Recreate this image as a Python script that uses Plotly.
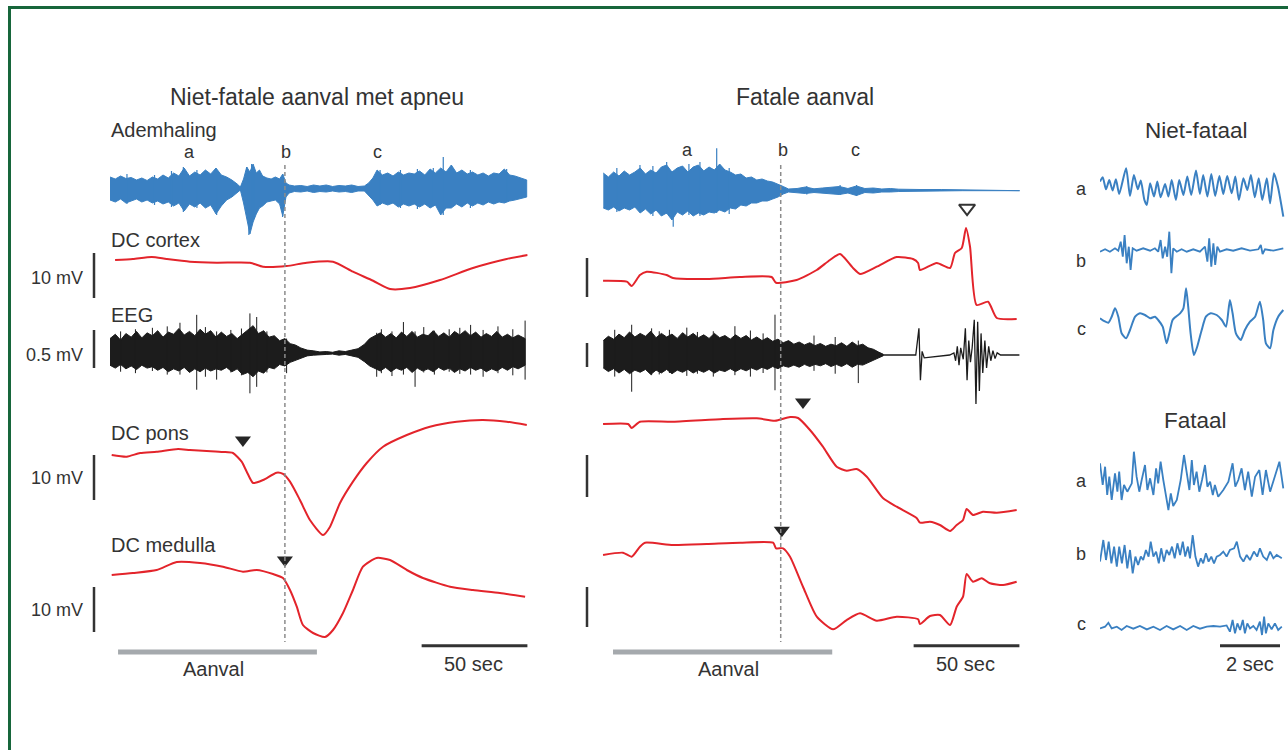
import plotly.graph_objects as go

W, H = 1288, 750
RED = "#e3242b"
BLUE = "#3a80c2"
BLACK = "#1c1c1c"
TXT = "#333333"
GREEN = "#17663b"
FONT = "Liberation Sans, Arial, Helvetica, sans-serif"

# ======================= DATA =======================
# ---- Left: non-fatal seizure with apnea (time s, DC mV, EEG mV, breathing a.u.)
nf_breath_t = [0, 2.5, 5, 7.5, 10, 12.5, 15, 17.5, 20, 22.5, 25, 27.5, 30, 32.5, 35, 37.5, 40, 42.5, 45, 47.5,
               50, 52.5, 55, 57.5, 60, 61.5, 63, 64.5, 66, 67.5, 69, 70.5, 72, 74, 76, 78, 80, 81.5, 83, 84.5,
               87, 90, 93, 96, 99, 102, 105, 108, 111, 114, 117, 120, 122, 124, 126, 128.5, 131, 133.5, 136, 138.5,
               141, 143.5, 146, 148.5, 151, 153.5, 156, 158.5, 161, 163.5, 166, 168.5, 171, 173.5, 176, 178.5, 181, 183.5, 186, 188.5,
               191, 193.5, 196.6]
nf_breath_hi = [1.1, 0.9, 1.2, 0.95, 1.05, 0.8, 1.0, 0.75, 1.1, 0.9, 1.3, 1.0, 1.5, 1.2, 2.0, 1.2, 1.6, 1.3, 1.8, 1.4,
                2.0, 1.3, 1.1, 0.8, 0.4, 0.1, 0.9, 2.1, 1.6, 2.4, 1.5, 1.8, 1.2, 1.0, 0.9, 1.1, 0.9, 1.4, 0.5, 0.3,
                0.2, 0.25, 0.15, 0.3, 0.2, 0.3, 0.15, 0.25, 0.2, 0.3, 0.15, 0.2, 0.5, 1.0, 1.8, 1.3, 1.5, 1.2, 1.6, 1.3,
                1.5, 1.4, 1.7, 1.3, 1.9, 1.5, 2.0, 1.6, 2.3, 1.5, 1.8, 1.4, 1.6, 1.3, 1.5, 1.2, 1.5, 1.4, 1.9, 1.3,
                1.2, 1.0, 0.8]
nf_breath_lo = [-1.2, -1.4, -1.1, -1.5, -1.3, -1.1, -1.4, -1.2, -1.5, -1.3, -1.6, -1.4, -1.8, -1.5, -2.3, -1.6, -1.9, -1.5, -2.0, -1.7,
                -2.6, -1.8, -1.2, -0.9, -0.5, -0.2, -1.5, -3.0, -4.6, -3.4, -2.6, -2.0, -1.8, -1.4, -1.3, -1.2, -1.6, -2.8, -0.9, -0.5,
                -0.35, -0.4, -0.3, -0.45, -0.35, -0.4, -0.3, -0.4, -0.35, -0.45, -0.3, -0.3, -0.7, -1.2, -1.8, -1.5, -1.7, -1.5, -1.9, -1.6,
                -1.8, -1.6, -1.9, -1.6, -2.0, -1.7, -2.7, -2.0, -2.0, -1.6, -1.9, -1.5, -1.8, -1.5, -1.7, -1.4, -1.6, -1.4, -1.5, -1.3,
                -1.2, -1.1, -0.9]
nf_breath_spk_t = [8.0, 21.0, 29.0, 34.6, 41.0, 50.3, 64.5, 65.5, 66.8, 68.0, 81.4, 127.4, 137.0, 145.0, 152.5, 157.2, 170.0, 187.1]
nf_breath_spk_hi = [1.4, 1.3, 1.7, 2.1, 1.8, 1.6, 2.1, 1.2, 2.4, 1.5, 1.4, 1.8, 1.8, 1.9, 2.0, 3.1, 1.8, 1.9]
nf_breath_spk_lo = [-1.6, -1.7, -1.9, -2.4, -2.0, -2.7, -2.6, -4.7, -3.6, -3.0, -2.9, -1.7, -2.0, -2.1, -1.8, -2.7, -2.0, -1.4]

nf_cortex_t = [2.4, 10.8, 19.7, 26.7, 37.7, 50.3, 66.0, 72.2, 83.3, 92.8, 105.2, 114.6, 124.1, 132.1, 141.5, 155.7, 171.2, 187.1, 197.0]
nf_cortex_v = [0.44, 0.67, 1.11, 0.67, 0.07, -0.16, -0.16, -1.04, -0.89, -0.16, 0.07, -2.16, -4.16, -6.0, -5.78, -4.0, -1.33, 0.67, 1.56]

nf_eeg_t = [0, 2.5, 5, 7.5, 10, 12.5, 15, 17.5, 20, 22.5, 25, 27.5, 30, 32.5, 35, 37.5, 40, 42.5, 45, 47.5,
            50, 52.5, 55, 57.5, 60, 62.5, 65, 67.5, 70, 72.5, 75, 77.5, 80, 82.5, 85, 87.5,
            90, 93, 96, 99, 102, 105, 108, 111, 114, 117,
            120, 122.5, 125, 127.5, 130, 132.5, 135, 137.5, 140, 142.5, 145, 147.5, 150, 152.5, 155, 157.5, 160, 162.5, 165, 167.5,
            170, 172.5, 175, 177.5, 180, 182.5, 185, 187.5, 190, 192.5, 195.8]
nf_eeg_hi = [0.2, 0.26, 0.18, 0.27, 0.22, 0.3, 0.21, 0.28, 0.24, 0.31, 0.22, 0.29, 0.26, 0.34, 0.25, 0.3, 0.24, 0.33, 0.26, 0.31,
             0.22, 0.29, 0.23, 0.27, 0.2, 0.26, 0.33, 0.38, 0.27, 0.31, 0.22, 0.24, 0.17, 0.2, 0.13, 0.11,
             0.07, 0.04, 0.03, 0.015, 0.02, 0.01, 0.03, 0.02, 0.04, 0.06,
             0.12, 0.2, 0.24, 0.28, 0.22, 0.27, 0.21, 0.29, 0.23, 0.3, 0.22, 0.26, 0.24, 0.31, 0.23, 0.28, 0.22, 0.3, 0.25, 0.31,
             0.24, 0.29, 0.22, 0.27, 0.23, 0.3, 0.22, 0.26, 0.21, 0.25, 0.2]
nf_eeg_lo = [-0.17, -0.21, -0.16, -0.22, -0.18, -0.23, -0.17, -0.21, -0.19, -0.24, -0.2, -0.26, -0.22, -0.25, -0.2, -0.27, -0.22, -0.26, -0.21, -0.25,
             -0.22, -0.24, -0.2, -0.26, -0.22, -0.3, -0.27, -0.33, -0.25, -0.28, -0.2, -0.22, -0.16, -0.18, -0.13, -0.1,
             -0.07, -0.04, -0.03, -0.02, -0.02, -0.015, -0.03, -0.02, -0.04, -0.06,
             -0.12, -0.18, -0.22, -0.25, -0.2, -0.26, -0.21, -0.24, -0.2, -0.27, -0.21, -0.25, -0.22, -0.26, -0.2, -0.24, -0.21, -0.27, -0.22, -0.25,
             -0.2, -0.24, -0.21, -0.26, -0.22, -0.25, -0.2, -0.24, -0.19, -0.22, -0.17]
nf_eeg_spk_t = [5.0, 12.0, 20.0, 27.0, 33.0, 40.9, 45.0, 50.3, 57.0, 62.0, 66.0, 69.2, 74.0, 83.3, 125.8, 128.0, 133.0, 138.4,
                143.9, 148.0, 153.0, 160.0, 165.0, 170.1, 176.0, 183.0, 190.0, 195.8]
nf_eeg_spk_hi = [0.3, 0.33, 0.35, 0.37, 0.42, 0.53, 0.36, 0.3, 0.32, 0.34, 0.55, 0.5, 0.3, 0.2, 0.28, 0.33, 0.3, 0.43,
                 0.3, 0.36, 0.31, 0.33, 0.35, 0.39, 0.32, 0.37, 0.33, 0.45]
nf_eeg_spk_lo = [-0.26, -0.28, -0.25, -0.3, -0.3, -0.51, -0.33, -0.37, -0.27, -0.31, -0.56, -0.47, -0.27, -0.28, -0.33, -0.28, -0.32, -0.3,
                 -0.47, -0.27, -0.3, -0.26, -0.29, -0.3, -0.33, -0.28, -0.31, -0.37]

nf_pons_t = [0.8, 7.9, 14.2, 22.0, 32.1, 37.7, 45.6, 53.3, 58.0, 62.1, 64.5, 67.5, 72.2, 78.6, 81.6, 84.9, 89.6, 94.3, 100.5, 103.8,
             108.5, 114.6, 121.1, 128.8, 140.0, 150.9, 163.5, 175.9, 187.1, 196.6]
nf_pons_v = [-1.11, -1.49, -0.67, -0.38, 0.22, 0.0, -0.22, -0.44, -0.67, -2.6, -4.82, -7.33, -6.67, -5.04, -5.33, -7.04, -11.11, -15.56, -18.89, -17.04,
             -11.78, -7.04, -2.89, 0.73, 3.33, 5.18, 6.29, 6.67, 6.29, 5.56]

nf_med_t = [0.8, 10.8, 22.0, 31.5, 42.5, 53.3, 62.7, 69.2, 76.9, 81.6, 84.9, 88.1, 91.0, 95.8, 101.4, 105.2, 109.9, 114.6, 119.3, 125.8,
            132.1, 140.0, 147.6, 160.4, 171.2, 183.9, 195.8]
nf_med_v = [-1.11, -0.67, 0.0, 1.78, 1.56, 0.73, -0.38, 0.0, -0.89, -1.78, -4.44, -8.16, -12.22, -14.0, -14.89, -13.33, -9.56, -4.44, 0.73, 2.67,
            2.22, 0.0, -1.78, -3.71, -4.44, -5.11, -5.93]

# ---- Middle: fatal seizure
f_breath_t = [0.6, 3, 5.5, 8, 10.5, 13, 15.5, 18, 20.5, 23, 25.5, 28, 30.5, 33, 35.5, 38, 40.5, 43, 45.5, 48,
              50.5, 53, 55.5, 58, 60.5, 63, 65.5, 68, 70.5, 73, 75.5, 78, 80.5, 83, 85.5, 88, 92, 96, 100, 104,
              108, 112, 116, 120, 124, 128, 132, 136, 140, 145, 150, 160, 170, 197.2]
f_breath_hi = [1.7, 1.3, 1.8, 1.4, 1.9, 1.5, 1.8, 2.2, 1.6, 2.0, 1.7, 2.3, 2.5, 1.8, 2.2, 2.4, 1.8, 2.3, 2.5, 1.9,
               2.3, 2.0, 2.6, 2.0, 1.8, 1.5, 1.6, 1.2, 1.3, 1.0, 1.1, 0.9, 0.8, 0.6, 0.35, 0.1, 0.15, 0.3, 0.12, 0.2,
               0.3, 0.35, 0.15, 0.4, 0.15, 0.2, 0.1, 0.15, 0.08, 0.1, 0.05, 0.05, 0.03, 0.0]
f_breath_lo = [-1.8, -2.0, -1.7, -2.1, -1.8, -2.0, -1.7, -2.3, -1.9, -2.4, -2.0, -2.6, -2.3, -3.0, -2.2, -2.5, -2.1, -2.6, -2.3, -2.5,
               -2.2, -2.3, -2.0, -2.2, -1.8, -1.9, -1.5, -1.6, -1.3, -1.3, -1.1, -1.1, -0.9, -0.7, -0.4, -0.2, -0.3, -0.35, -0.25, -0.3,
               -0.4, -0.45, -0.3, -0.55, -0.25, -0.3, -0.2, -0.2, -0.15, -0.15, -0.1, -0.08, -0.07, -0.07]
f_breath_spk_t = [7.0, 17.9, 24.0, 30.5, 33.6, 41.0, 46.2, 54.1, 60.0, 96.6, 112.3, 120.1]
f_breath_spk_hi = [2.2, 2.5, 2.4, 2.8, 1.8, 2.6, 2.8, 4.17, 2.2, 0.4, 0.5, 0.5]
f_breath_spk_lo = [-2.2, -2.0, -2.6, -2.4, -3.67, -2.5, -2.6, -2.3, -2.4, -0.45, -0.5, -0.6]

f_cortex_t = [0.5, 11.7, 14.0, 17.9, 21.1, 30.5, 33.5, 49.4, 65.1, 80.0, 82.1, 91.8, 101.3, 107.5, 112.3, 118.4, 121.7, 129.6, 139.0, 146.7,
              149.1, 150.0, 157.9, 164.2, 166.5, 169.7, 171.7, 173.6, 176.7, 182.1, 186.2, 195.6]
f_cortex_v = [-0.82, -1.04, -2.0, 0.44, 1.18, 0.44, -0.22, -0.44, 0.0, 0.0, -1.27, -0.67, 1.56, 3.78, 5.11, 2.0, 0.67, 2.29, 4.44, 4.0,
              3.11, 1.56, 3.11, 2.0, 5.33, 6.44, 10.89, 6.73, -6.22, -5.49, -9.11, -9.33]

f_eeg_t = [0.6, 3, 5.5, 8, 10.5, 13, 15.5, 18, 20.5, 23, 25.5, 28, 30.5, 33, 35.5, 38, 40.5, 43, 45.5, 48,
           50.5, 53, 55.5, 58, 60.5, 63, 65.5, 68, 70.5, 73, 75.5, 78, 80.5, 83, 85.5, 88, 90.5, 93, 95.5, 98,
           100.5, 103, 105.5, 108, 110.5, 113, 115.5, 118, 120.5, 123, 125.5, 128, 130.5, 132.7]
f_eeg_hi = [0.2, 0.26, 0.22, 0.29, 0.24, 0.32, 0.25, 0.3, 0.26, 0.33, 0.24, 0.3, 0.25, 0.29, 0.23, 0.31, 0.25, 0.3, 0.24, 0.28,
            0.23, 0.3, 0.24, 0.27, 0.22, 0.28, 0.23, 0.27, 0.21, 0.25, 0.2, 0.24, 0.19, 0.22, 0.17, 0.2, 0.15, 0.18, 0.14, 0.17,
            0.13, 0.16, 0.12, 0.15, 0.13, 0.17, 0.12, 0.18, 0.13, 0.15, 0.1, 0.08, 0.04, 0.01]
f_eeg_lo = [-0.18, -0.23, -0.19, -0.25, -0.2, -0.26, -0.21, -0.24, -0.2, -0.27, -0.21, -0.25, -0.2, -0.26, -0.21, -0.24, -0.2, -0.25, -0.21, -0.24,
            -0.2, -0.25, -0.21, -0.23, -0.19, -0.23, -0.19, -0.22, -0.18, -0.21, -0.17, -0.2, -0.16, -0.19, -0.15, -0.17, -0.14, -0.17, -0.13, -0.16,
            -0.13, -0.15, -0.12, -0.16, -0.13, -0.16, -0.12, -0.17, -0.13, -0.14, -0.1, -0.07, -0.04, -0.01]
f_eeg_spk_t = [6.0, 14.0, 23.4, 27.0, 31.8, 40.0, 45.0, 52.5, 62.7, 70.0, 76.0, 81.6, 100.0, 110.0, 120.9]
f_eeg_spk_hi = [0.35, 0.42, 0.37, 0.33, 0.35, 0.38, 0.32, 0.33, 0.4, 0.34, 0.3, 0.56, 0.27, 0.25, 0.2]
f_eeg_spk_lo = [-0.3, -0.51, -0.28, -0.27, -0.25, -0.29, -0.26, -0.3, -0.28, -0.3, -0.25, -0.49, -0.22, -0.26, -0.39]
f_eeg_tail_t = [132.7, 148.0, 149.5, 150.2, 151.0, 152.0, 164.0, 166.0, 166.8, 167.6, 168.4, 169.2, 170.4, 171.4, 172.2, 173.0, 173.8, 174.6,
                175.6, 176.4, 177.2, 178.0, 178.8, 179.6, 180.6, 181.4, 182.4, 183.4, 184.4, 185.4, 186.4, 188.0, 197.0]
f_eeg_tail_v = [0, 0, 0.37, -0.35, 0.05, -0.04, 0, 0.03, -0.08, 0.12, -0.14, 0.1, -0.06, 0.37, -0.35, 0.2, -0.1, 0.1,
                0.49, -0.68, 0.46, -0.5, 0.3, -0.25, 0.2, -0.18, 0.12, -0.08, 0.06, -0.05, 0.03, 0, 0]

f_pons_t = [0.5, 12.3, 14.0, 17.9, 33.5, 57.1, 73.0, 81.6, 88.7, 92.5, 98.1, 104.2, 110.7, 115.4, 120.1, 124.9, 132.5, 139.0, 148.4, 150.0,
            154.7, 159.4, 164.2, 167.3, 170.3, 172.0, 175.0, 179.7, 186.2, 195.6]
f_pons_v = [-0.89, -0.89, -1.78, -0.38, -0.38, 0.22, 0.38, -0.16, 0.67, 0.44, -2.22, -5.93, -10.38, -11.27, -10.89, -12.6, -17.33, -19.27, -21.78, -22.82,
            -22.6, -23.33, -24.67, -23.33, -22.22, -19.78, -21.11, -20.38, -20.6, -20.0]

f_med_t = [0.5, 9.9, 14.0, 17.9, 20.3, 33.5, 49.4, 65.1, 80.7, 82.1, 85.4, 88.7, 94.8, 101.3, 109.0, 115.4, 121.7, 129.6, 139.0, 149.1,
           150.0, 154.7, 159.4, 164.2, 167.3, 170.3, 172.0, 175.0, 179.1, 183.0, 189.2, 195.6]
f_med_v = [-2.22, -1.71, -2.6, -0.38, 0.51, 0.0, 0.22, 0.51, 0.51, -0.73, -0.73, -2.6, -9.27, -15.93, -18.73, -16.67, -15.18, -16.82, -15.93, -16.51,
           -17.56, -15.78, -15.56, -17.78, -13.71, -11.49, -6.44, -8.16, -7.4, -8.51, -8.89, -8.16]

# ---- Right: 6-s breathing excerpts a, b, c
nfa_t = [0, 0.09, 0.2, 0.31, 0.42, 0.53, 0.64, 0.87, 1.0, 1.13, 1.26, 1.36, 1.48, 1.56, 1.67, 1.8, 1.91, 2.02, 2.17, 2.28,
         2.39, 2.53, 2.64, 2.78, 2.91, 3.04, 3.2, 3.33, 3.44, 3.58, 3.71, 3.84, 3.98, 4.11, 4.24, 4.39, 4.51, 4.63, 4.78, 4.91,
         5.03, 5.16, 5.29, 5.41, 5.56, 5.67, 5.8, 5.93, 6.11]
nfa_v = [0.67, 1.1, -0.1, 0.83, -0.23, 0.9, -0.57, 2.0, -0.77, 1.33, -0.1, 0.77, -1.17, -1.67, 0.5, -0.83, 0.67, -0.9, 0.43, -0.83,
         0.83, -1.17, 0.83, -0.67, 1.17, -0.67, 1.77, -0.57, 1.33, -0.83, 1.43, -0.77, 1.23, -0.57, 1.23, -0.5, 1.17, -1.17, 1.0, -0.17,
         1.33, -0.9, 1.0, -1.17, 1.0, -1.5, 1.5, 0.17, -2.83]
nfb_t = [0, 0.17, 0.33, 0.5, 0.61, 0.69, 0.76, 0.82, 0.89, 0.96, 1.02, 1.09, 1.22, 1.44, 1.67, 1.83, 1.94, 2.02, 2.09, 2.17,
         2.24, 2.31, 2.38, 2.44, 2.56, 2.72, 2.89, 3.11, 3.33, 3.5, 3.58, 3.64, 3.71, 3.78, 3.84, 3.91, 4.0, 4.22, 4.44, 4.72,
         5.0, 5.28, 5.36, 5.42, 5.5, 5.78, 6.11]
nfb_v = [-0.17, 0.07, -0.17, 0.17, -0.07, 0.83, -0.67, 1.5, -1.33, 0.33, -2.0, 0.17, -0.07, 0.17, -0.07, 0.17, -0.17, 1.0, -0.83, 0.33,
         -0.67, 1.83, -2.33, 0.17, -0.17, 0.07, -0.17, 0.07, -0.17, 0.33, -1.17, 1.17, -1.67, 0.67, -1.5, 0.33, -0.17, 0.07, -0.07, 0.17,
         -0.07, 0.07, 0.5, -0.4, 0.07, -0.07, 0.17]
nfc_t = [0, 0.11, 0.28, 0.39, 0.5, 0.61, 0.72, 0.87, 1.0, 1.17, 1.33, 1.5, 1.67, 1.83, 1.94, 2.09, 2.22, 2.31, 2.42, 2.53,
         2.67, 2.78, 2.87, 2.94, 3.02, 3.13, 3.24, 3.39, 3.53, 3.69, 3.89, 4.06, 4.2, 4.33, 4.42, 4.53, 4.69, 4.83, 5.0, 5.17,
         5.33, 5.44, 5.53, 5.67, 5.78, 5.94, 6.11]
nfc_v = [0.17, -0.07, -0.27, 0.33, 1.17, 0.33, -1.33, -1.83, -1.0, 0.33, 0.67, 0.5, 0.17, 0.33, 0.0, -0.67, -2.33, -1.33, 0.0, 0.33,
         0.67, 1.17, 3.17, 1.33, -1.33, -3.5, -2.67, -1.0, 0.33, 0.67, 0.5, 0.0, -0.67, 2.0, 0.67, -1.33, -2.0, -1.0, -0.17, 0.33,
         1.83, 0.0, -2.33, -2.83, -1.0, 0.33, 1.0]
fa_t = [0, 0.09, 0.17, 0.24, 0.31, 0.39, 0.5, 0.58, 0.64, 0.72, 0.8, 0.91, 1.06, 1.13, 1.22, 1.31, 1.39, 1.5, 1.58, 1.67,
        1.78, 1.87, 1.94, 2.02, 2.11, 2.2, 2.28, 2.36, 2.44, 2.56, 2.69, 2.8, 2.89, 2.98, 3.06, 3.13, 3.22, 3.31, 3.4, 3.5,
        3.58, 3.67, 3.76, 3.83, 3.94, 4.11, 4.28, 4.42, 4.51, 4.61, 4.72, 4.83, 4.94, 5.06, 5.17, 5.31, 5.42, 5.53, 5.67, 5.8,
        5.98, 6.11]
fa_v = [1.67, -0.5, 1.33, -1.5, 0.33, -2.0, 0.67, -1.17, 0.83, -2.0, -0.5, -1.17, -0.33, 2.83, 0.33, -1.17, 0.0, 1.5, -1.0, 0.17,
        -1.5, 1.17, -0.33, 1.83, 0.0, -1.67, -3.0, -1.33, -2.6, -2.0, 0.0, 2.5, 0.83, -1.0, 2.0, -0.5, 0.83, -1.17, 0.0, 1.5,
        -0.67, -0.17, -1.5, -0.5, -1.67, -1.0, -0.17, 1.67, -0.67, 0.0, 1.17, -1.0, 0.83, -1.67, 0.33, 1.0, -1.5, 1.0, -1.17, 0.0,
        1.83, -0.83]
fb_t = [0, 0.11, 0.2, 0.29, 0.38, 0.47, 0.56, 0.64, 0.73, 0.82, 0.91, 1.0, 1.09, 1.18, 1.27, 1.36, 1.44, 1.53, 1.62, 1.69,
        1.78, 1.87, 1.96, 2.04, 2.13, 2.22, 2.31, 2.4, 2.49, 2.58, 2.67, 2.76, 2.84, 2.93, 3.0, 3.09, 3.18, 3.27, 3.36, 3.44,
        3.53, 3.62, 3.71, 3.8, 3.89, 4.0, 4.11, 4.22, 4.33, 4.47, 4.56, 4.67, 4.78, 4.89, 5.0, 5.13, 5.24, 5.33, 5.44, 5.56,
        5.67, 5.78, 5.89, 6.06]
fb_v = [-0.83, 1.33, -0.67, 1.17, -1.0, 0.67, -1.33, 0.67, -1.0, 0.83, -1.5, 0.33, -2.0, -0.33, -1.17, -0.33, -0.67, 0.33, -0.33, 1.17,
        -0.33, 0.17, -1.0, 0.5, -0.83, 0.33, -0.17, 0.67, -0.5, 1.0, -0.17, 1.17, -0.33, 0.67, -0.5, 1.83, -0.33, -1.33, -0.5, -1.0,
        0.0, -0.83, -0.33, -1.0, -0.33, -0.17, 0.17, -0.33, 0.33, 0.5, 1.17, -0.33, -0.83, -0.17, -0.67, 0.17, -0.33, 0.5, -0.33, -0.67,
        0.17, -0.5, -0.17, -0.5]
fc_t = [0, 0.17, 0.28, 0.39, 0.56, 0.72, 0.89, 1.11, 1.33, 1.56, 1.78, 2.0, 2.22, 2.44, 2.67, 2.89, 3.11, 3.33, 3.56, 3.78,
        4.0, 4.22, 4.33, 4.42, 4.5, 4.58, 4.67, 4.76, 4.83, 4.91, 5.0, 5.11, 5.22, 5.33, 5.4, 5.47, 5.53, 5.61, 5.72, 5.83,
        5.94, 6.06]
fc_v = [-0.17, 0.0, 0.4, -0.17, 0.0, -0.33, 0.07, -0.2, 0.07, -0.27, 0.0, -0.33, 0.07, -0.27, 0.07, -0.33, 0.07, -0.2, 0.0, 0.07,
        0.0, 0.13, -0.5, 0.67, -0.67, 0.33, -0.33, 0.67, -0.67, 0.33, -0.17, 0.07, -0.33, 0.5, -0.83, 1.0, -0.67, 0.33, -0.27, 0.33,
        -0.33, 0.0]

# event markers (time s, value in trace units)
nf_pons_arrow = (62.7, 2.2)
nf_med_arrow = (82.5, 2.2)
f_pons_arrow = (94.8, 4.0)
f_med_arrow = (84.8, 3.3)
f_cortex_open_arrow = (172.2, 15.3)
nf_b_time = 82.5
f_b_time = 84.3

# ======================= LAYOUT HELPERS =======================
def py(p):
    return 1 - p / H


def pxx(p):
    return p / W


# column -> (x axis id, left pixel, pixels per second, time span)
COLS = {"L": ("x", 110, 2.12, 197), "M": ("x2", 602, 2.12, 197), "R": ("x3", 1100, 30, 6.2)}

layout = dict(width=W, height=H, margin=dict(l=0, r=0, t=0, b=0), autosize=False,
              paper_bgcolor="white", plot_bgcolor="rgba(0,0,0,0)", showlegend=False,
              font=dict(family=FONT, color=TXT))

for key, (xa, left, s, span) in COLS.items():
    nm = "xaxis" if xa == "x" else "xaxis" + xa[1:]
    layout[nm] = dict(domain=[pxx(left), pxx(left + s * span)], range=[0, span], visible=False,
                      anchor="free", position=0, fixedrange=True)

# row -> (column, top px, bottom px, zero px, px per unit)
ROWS = {
    "nf_breath": ("L", 140, 245, 188, 10), "nf_cortex": ("L", 235, 305, 262, 4.5),
    "nf_eeg": ("L", 300, 400, 353, 72), "nf_pons": ("L", 405, 545, 450, 4.5),
    "nf_med": ("L", 550, 645, 570, 4.5),
    "f_breath": ("M", 140, 240, 190, 10), "f_cortex": ("M", 195, 325, 277, 4.5),
    "f_eeg": ("M", 300, 410, 355, 72), "f_pons": ("M", 395, 540, 420, 4.5),
    "f_med": ("M", 520, 640, 545, 4.5),
    "nfa": ("R", 160, 225, 188.3, 10), "nfb": ("R", 225, 280, 250, 10), "nfc": ("R", 283, 360, 320, 10),
    "fa": ("R", 440, 515, 480, 10), "fb": ("R", 522, 590, 553.3, 10), "fc": ("R", 605, 645, 626.7, 10),
}
AX = {}
for i, (row, (col, top, bot, ref, sc)) in enumerate(ROWS.items(), start=1):
    yid = "y" if i == 1 else "y%d" % i
    nm = "yaxis" if i == 1 else "yaxis%d" % i
    xa = COLS[col][0]
    layout[nm] = dict(domain=[py(bot), py(top)], range=[(ref - bot) / sc, (ref - top) / sc],
                      visible=False, anchor=xa, fixedrange=True)
    AX[row] = (xa, yid)

fig = go.Figure()


def line(row, t, v, color, width=2.0, shape="spline"):
    xa, ya = AX[row]
    fig.add_trace(go.Scatter(x=t, y=v, mode="lines", xaxis=xa, yaxis=ya, hoverinfo="skip",
                             line=dict(color=color, width=width, shape=shape, smoothing=0.6)))


def band(row, t, hi, lo, color):
    xa, ya = AX[row]
    fig.add_trace(go.Scatter(x=list(t) + list(t)[::-1], y=list(hi) + list(lo)[::-1], mode="lines",
                             fill="toself", fillcolor=color, xaxis=xa, yaxis=ya, hoverinfo="skip",
                             line=dict(color=color, width=1.0)))


def spikes(row, t, hi, lo, color, width=1.2):
    xa, ya = AX[row]
    xs, ys = [], []
    for a, b, c in zip(t, hi, lo):
        xs += [a, a, None]
        ys += [c, b, None]
    fig.add_trace(go.Scatter(x=xs, y=ys, mode="lines", xaxis=xa, yaxis=ya, hoverinfo="skip",
                             line=dict(color=color, width=width)))


def arrow(row, pt, symbol="triangle-down", color="#262626"):
    xa, ya = AX[row]
    fig.add_trace(go.Scatter(x=[pt[0]], y=[pt[1]], mode="markers", xaxis=xa, yaxis=ya, hoverinfo="skip",
                             cliponaxis=False,
                             marker=dict(symbol=symbol, size=14, color=color,
                                         line=dict(color=color, width=2 if "open" in symbol else 0))))


# left column
band("nf_breath", nf_breath_t, nf_breath_hi, nf_breath_lo, BLUE)
spikes("nf_breath", nf_breath_spk_t, nf_breath_spk_hi, nf_breath_spk_lo, BLUE)
line("nf_cortex", nf_cortex_t, nf_cortex_v, RED)
band("nf_eeg", nf_eeg_t, nf_eeg_hi, nf_eeg_lo, BLACK)
spikes("nf_eeg", nf_eeg_spk_t, nf_eeg_spk_hi, nf_eeg_spk_lo, BLACK, width=1.0)
line("nf_pons", nf_pons_t, nf_pons_v, RED)
line("nf_med", nf_med_t, nf_med_v, RED)
arrow("nf_pons", nf_pons_arrow)
arrow("nf_med", nf_med_arrow)

# middle column
band("f_breath", f_breath_t, f_breath_hi, f_breath_lo, BLUE)
spikes("f_breath", f_breath_spk_t, f_breath_spk_hi, f_breath_spk_lo, BLUE)
line("f_cortex", f_cortex_t, f_cortex_v, RED)
band("f_eeg", f_eeg_t, f_eeg_hi, f_eeg_lo, BLACK)
spikes("f_eeg", f_eeg_spk_t, f_eeg_spk_hi, f_eeg_spk_lo, BLACK, width=1.0)
line("f_eeg", f_eeg_tail_t, f_eeg_tail_v, BLACK, width=1.3, shape="linear")
line("f_pons", f_pons_t, f_pons_v, RED)
line("f_med", f_med_t, f_med_v, RED)
arrow("f_pons", f_pons_arrow)
arrow("f_med", f_med_arrow)
arrow("f_cortex", f_cortex_open_arrow, symbol="triangle-down-open", color="#333333")

# right column
line("nfa", nfa_t, nfa_v, BLUE, width=2.0)
line("nfb", nfb_t, nfb_v, BLUE, width=1.8, shape="linear")
line("nfc", nfc_t, nfc_v, BLUE, width=2.0)
line("fa", fa_t, fa_v, BLUE, width=1.8, shape="linear")
line("fb", fb_t, fb_v, BLUE, width=1.8, shape="linear")
line("fc", fc_t, fc_v, BLUE, width=1.8, shape="linear")

# ======================= SHAPES =======================
shapes = []
# frame
shapes.append(dict(type="rect", xref="paper", yref="paper", x0=pxx(9.5), x1=1.02, y0=py(7.5), y1=-0.02,
                   line=dict(color=GREEN, width=3), layer="above"))
# dashed "b" markers
for xa, tb in (("x", nf_b_time), ("x2", f_b_time)):
    shapes.append(dict(type="line", xref=xa, yref="paper", x0=tb, x1=tb, y0=py(165), y1=py(642),
                       line=dict(color="#8c8c8c", width=1.5, dash="4px,3px")))
# seizure bars and 50 s bars
for xa, t0, t1 in (("x", 3.8, 97.6), ("x2", 5.2, 108.6)):
    shapes.append(dict(type="line", xref=xa, yref="paper", x0=t0, x1=t1, y0=py(652), y1=py(652),
                       line=dict(color="#a5a9ad", width=5)))
for xa, t0, t1 in (("x", 147, 197), ("x2", 147, 197), ("x3", 4.0, 6.0)):
    shapes.append(dict(type="line", xref=xa, yref="paper", x0=t0, x1=t1, y0=py(645.7), y1=py(645.7),
                       line=dict(color="#333333", width=3)))
# amplitude scale bars (pixel positions)
for xp, segs in ((94, [(253, 298), (330, 368), (455, 500), (587, 632)]),
                 (587, [(258, 297), (343, 367), (455, 497), (587, 627)])):
    for a, b in segs:
        shapes.append(dict(type="line", xref="paper", yref="paper", x0=pxx(xp), x1=pxx(xp), y0=py(a), y1=py(b),
                           line=dict(color="#333333", width=2.5)))
layout["shapes"] = shapes

# ======================= TEXT =======================
ann = []


def text(s, x, y, size=19, anchor="center", color=TXT):
    ann.append(dict(text=s, x=pxx(x), y=py(y), xref="paper", yref="paper", showarrow=False,
                    xanchor=anchor, yanchor="middle", font=dict(size=size, color=color, family=FONT)))


text("Niet-fatale aanval met apneu", 317, 97, 23)
text("Fatale aanval", 805, 97, 23)
text("Niet-fataal", 1196, 131, 22.5)
text("Fataal", 1195, 420, 22.5)
for s, y in (("Ademhaling", 130), ("DC cortex", 240), ("EEG", 315), ("DC pons", 433), ("DC medulla", 545)):
    text(s, 109, y, 20, "left")
for s, x in (("a", 189), ("b", 286), ("c", 377)):
    text(s, x, 152, 18)
for s, x in (("a", 687), ("b", 783), ("c", 855)):
    text(s, x, 150, 18)
for s, y in (("a", 189), ("b", 261), ("c", 329), ("a", 481), ("b", 554), ("c", 624)):
    text(s, 1081, y, 18)
for s, y in (("10 mV", 278), ("0.5 mV", 355), ("10 mV", 478), ("10 mV", 610)):
    text(s, 85, y, 18, "right")
text("Aanval", 213, 669, 20)
text("Aanval", 728, 669, 20)
text("50 sec", 473, 664, 20)
text("50 sec", 965, 664, 20)
text("2 sec", 1250, 664, 20)
layout["annotations"] = ann

fig.update_layout(**layout)
fig.write_html("out.html", config={"displayModeBar": False, "staticPlot": True},
               post_script="document.body.style.margin='0';document.body.style.overflow='hidden';")
